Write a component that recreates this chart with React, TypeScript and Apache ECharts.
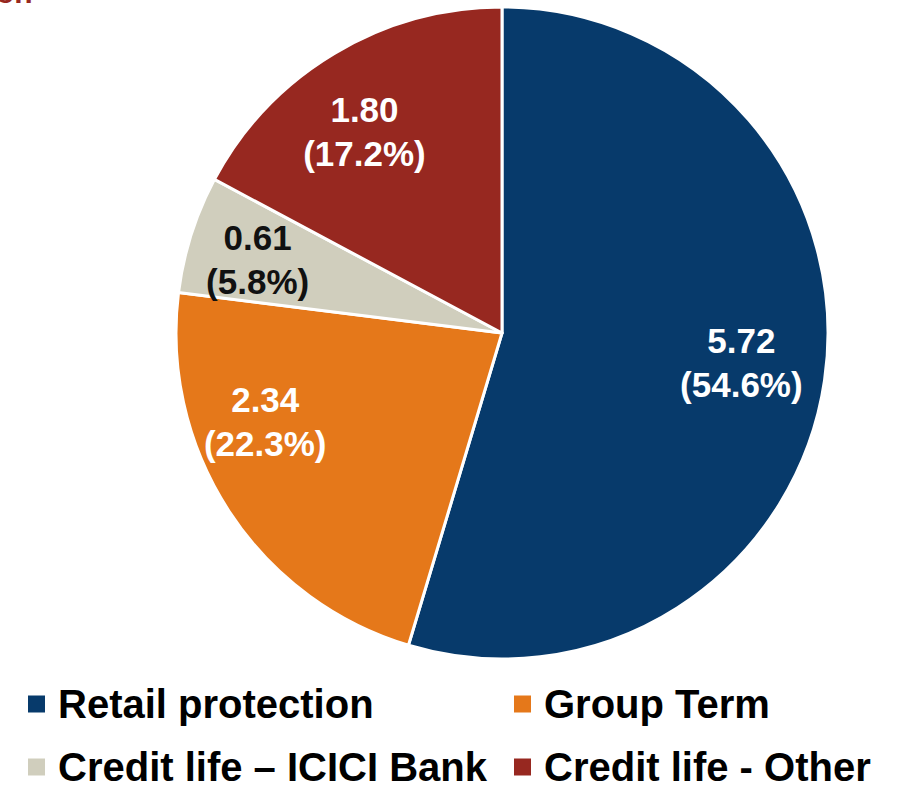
import React, { useEffect, useRef } from "react";
import * as echarts from "echarts";

const categories = ["Retail protection", "Group Term", "Credit life – ICICI Bank", "Credit life - Other"];
const values = [5.72, 2.34, 0.61, 1.8];
const colors = ["#073a6b", "#e5781a", "#d0cebd", "#972820"];
const labelColors = ["#ffffff", "#ffffff", "#111111", "#ffffff"];
const labelNudge = [
  [-6, -6],
  [-29, -47],
  [-8, 2],
  [-10, 11],
];
const legendCol = [26, 512, 26, 512];
const legendRow = [684, 684, 747, 747];

export default function App() {
  const ref = useRef<HTMLDivElement>(null);
  useEffect(() => {
    if (!ref.current) return;
    const chart = echarts.init(ref.current, undefined, { renderer: "svg" });
    const total = values.reduce((a, b) => a + b, 0);
    const data = categories.map((name, i) => ({
      name,
      value: values[i],
      itemStyle: { color: colors[i] },
      label: { color: labelColors[i] },
    }));
    const center = [502, 333];
    const legendText = {
      fontFamily: "Liberation Sans, Arial, sans-serif",
      fontWeight: "bold",
      fontSize: 40,
      color: "#000",
      lineHeight: 38,
      padding: [0, 0, 0, 7],
    };
    chart.setOption({
      animation: false,
      graphic: [
        {
          type: "text",
          left: -4,
          top: -23,
          style: {
            text: "on",
            fontFamily: "Liberation Sans, Arial, sans-serif",
            fontWeight: "bold",
            fontSize: 30,
            fill: "#972820",
          },
        },
      ],
      legend: categories.map((name, i) => ({
        data: [name],
        left: legendCol[i],
        top: legendRow[i],
        orient: "horizontal",
        icon: "rect",
        itemWidth: 19,
        itemHeight: 19,
        padding: 0,
        selectedMode: false,
        textStyle: legendText,
      })),
      series: [
        {
          type: "pie",
          center,
          radius: [0, 326],
          startAngle: 90,
          clockwise: true,
          label: { show: false },
          labelLine: { show: false },
          itemStyle: { borderColor: "#ffffff", borderWidth: 3 },
          emphasis: { disabled: true },
          data,
        },
        {
          type: "pie",
          center,
          radius: [164, 326],
          startAngle: 90,
          clockwise: true,
          silent: true,
          z: 5,
          itemStyle: { color: "transparent", borderWidth: 0 },
          emphasis: { disabled: true },
          labelLine: { show: false },
          label: {
            show: true,
            position: "inside",
            fontFamily: "Liberation Sans, Arial, sans-serif",
            fontWeight: "bold",
            fontSize: 35,
            lineHeight: 44,
            formatter: (p: any) =>
              `${Number(p.value).toFixed(2)}\n(${((Number(p.value) / total) * 100).toFixed(1)}%)`,
          },
          labelLayout: (p: any) => ({
            dx: labelNudge[p.dataIndex][0],
            dy: labelNudge[p.dataIndex][1],
          }),
          data: data.map((d) => ({ name: d.name, value: d.value, itemStyle: { color: "transparent" }, label: d.label })),
        },
      ],
    });
    return () => chart.dispose();
  }, []);
  return (
    <div
      ref={ref}
      style={{ position: "fixed", left: 0, top: 0, width: 898, height: 786, background: "#fff" }}
    />
  );
}
